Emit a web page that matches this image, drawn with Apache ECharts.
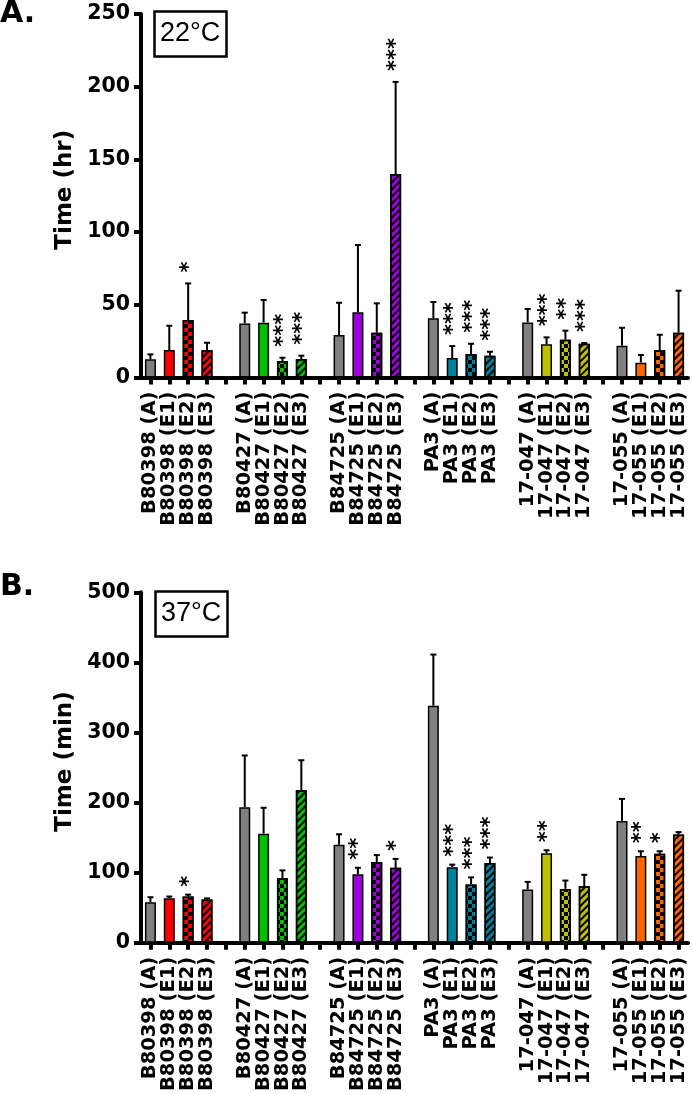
<!DOCTYPE html>
<html>
<head>
<meta charset="utf-8">
<script src="https://cdn.jsdelivr.net/npm/echarts@6/dist/echarts.min.js"></script>
<style>
  html, body { margin: 0; padding: 0; background: #fff; }
  #chart { width: 693px; height: 1094px; }
</style>
</head>
<body>
<div id="chart"></div>
<script>
// ---------------- data ----------------
const categories = [
  'B80398 (A)', 'B80398 (E1)', 'B80398 (E2)', 'B80398 (E3)', '',
  'B80427 (A)', 'B80427 (E1)', 'B80427 (E2)', 'B80427 (E3)', '',
  'B84725 (A)', 'B84725 (E1)', 'B84725 (E2)', 'B84725 (E3)', '',
  'PA3 (A)', 'PA3 (E1)', 'PA3 (E2)', 'PA3 (E3)', '',
  '17-047 (A)', '17-047 (E1)', '17-047 (E2)', '17-047 (E3)', '',
  '17-055 (A)', '17-055 (E1)', '17-055 (E2)', '17-055 (E3)'
];
const groupColors = ['#ff0000', '#00c000', '#a000e0', '#00809f', '#c0c000', '#ff6600'];

// Panel A: 22°C, time (hr)
const mean22 = [12.5, 18.9, 39.5, 18.9, null,
                37.2, 37.7, 11.3, 12.7, null,
                29.2, 44.8, 30.8, 139.9, null,
                40.7, 13.4, 16.2, 15.0, null,
                37.9, 22.8, 26.0, 23.2, null,
                21.9, 10.2, 18.7, 30.8];
const err22 = [3.4, 16.7, 25.2, 5.0, null,
               7.4, 15.6, 2.3, 2.3, null,
               22.2, 46.3, 20.2, 63.4, null,
               11.2, 8.2, 7.0, 2.7, null,
               9.2, 4.8, 6.2, 0.5, null,
               12.3, 5.3, 10.7, 28.9];
const stars22 = ['', '', '*', '', '',
                 '', '', '***', '***', '',
                 '', '', '', '***', '',
                 '', '***', '***', '***', '',
                 '', '***', '**', '***', '',
                 '', '', '', ''];

// Panel B: 37°C, time (min)
const mean37 = [57.8, 63.7, 66.0, 61.9, null,
                193.5, 155.7, 91.9, 217.6, null,
                139.8, 97.8, 115.2, 107.0, null,
                338.3, 107.9, 83.3, 113.8, null,
                76.0, 127.9, 76.9, 80.6, null,
                173.9, 123.8, 127.0, 154.4];
const err37 = [7.2, 2.3, 2.7, 1.4, null,
               73.7, 36.9, 11.4, 42.8, null,
               15.0, 9.2, 9.9, 12.7, null,
               72.9, 3.6, 10.0, 7.8, null,
               10.9, 4.1, 11.9, 16.4, null,
               31.4, 6.8, 3.6, 3.5];
const stars37 = ['', '', '*', '', '',
                 '', '', '', '', '',
                 '', '**', '', '*', '',
                 '', '***', '***', '***', '',
                 '', '**', '', '', '',
                 '', '**', '*', ''];

const yTicks22 = [0, 50, 100, 150, 200, 250];
const yTicks37 = [0, 100, 200, 300, 400, 500];

// ---------------- styling helpers ----------------
const FONT = 'DejaVu Sans';
const checkerDecal = {
  symbol: 'rect', symbolSize: 1, color: '#000',
  dashArrayX: [[3.3, 3.3], [0, 3.3, 3.3, 0]], dashArrayY: [3.3, 0], rotation: 0
};
const stripeDecal = {
  symbol: 'rect', symbolSize: 1, color: '#000',
  dashArrayX: [1, 0], dashArrayY: [2, 2.5], rotation: -Math.PI / 4
};

function barData(means) {
  return means.map(function (v, i) {
    if (v == null) return '-';
    const g = Math.floor(i / 5), k = i % 5;
    const style = { color: k === 0 ? '#808080' : groupColors[g], borderColor: '#000', borderWidth: 1.5 };
    if (k === 2) style.decal = checkerDecal;
    if (k === 3) style.decal = stripeDecal;
    return { value: v, itemStyle: style };
  });
}

function errData(means, errs) {
  const out = [];
  means.forEach(function (v, i) { if (v != null) out.push([i, v, v + errs[i]]); });
  return out;
}

function errRender(stars, gap) {
  return function (params, api) {
    const i = api.value(0);
    const base = api.coord([i, api.value(1)]);
    const top = api.coord([i, api.value(2)]);
    const x = base[0];
    const children = [
      { type: 'line', shape: { x1: x, y1: base[1], x2: x, y2: top[1] }, style: { stroke: '#000', lineWidth: 2 } },
      { type: 'line', shape: { x1: x - 3, y1: top[1], x2: x + 3, y2: top[1] }, style: { stroke: '#000', lineWidth: 2 } }
    ];
    const s = stars[i];
    if (s) {
      children.push({
        type: 'text', x: x + 1, y: top[1] - gap, rotation: Math.PI / 2,
        style: { text: s, fontSize: 21, fontFamily: FONT, fontWeight: 'bold', fill: '#000', align: 'left', verticalAlign: 'middle' }
      });
    }
    return { type: 'group', children: children };
  };
}

function xAxis(gridIndex) {
  return {
    type: 'category', gridIndex: gridIndex, data: categories, boundaryGap: true,
    axisLine: { lineStyle: { color: '#000', width: 4 } },
    axisTick: { show: true, alignWithLabel: true, interval: 0, length: 7, lineStyle: { color: '#000', width: 4 } },
    axisLabel: { interval: 0, rotate: 90, margin: 14, color: '#000', fontFamily: FONT, fontWeight: 'bold', fontSize: 19.5 },
    splitLine: { show: false }
  };
}

function yAxis(gridIndex, ticks, name) {
  return {
    type: 'value', gridIndex: gridIndex, min: ticks[0], max: ticks[ticks.length - 1],
    interval: ticks[1] - ticks[0],
    name: name, nameLocation: 'middle', nameGap: 64, nameRotate: 90,
    nameTextStyle: { color: '#000', fontFamily: FONT, fontWeight: 'bold', fontSize: 23, padding: [0, 0, 0, 12] },
    axisLine: { show: true, lineStyle: { color: '#000', width: 4 } },
    axisTick: { show: true, length: 7, lineStyle: { color: '#000', width: 4 } },
    axisLabel: { margin: 11, color: '#000', fontFamily: FONT, fontWeight: 'bold', fontSize: 20.5 },
    splitLine: { show: false }
  };
}

const option = {
  animation: false,
  backgroundColor: '#fff',
  title: [
    { text: 'A.', left: 0, top: -1, padding: 0, textStyle: { fontFamily: FONT, fontWeight: 'bold', fontSize: 30, color: '#000' } },
    { text: 'B.', left: 0, top: 572, padding: 0, textStyle: { fontFamily: FONT, fontWeight: 'bold', fontSize: 30, color: '#000' } },
    { text: '22°C', left: 154, top: 11, padding: [9, 6, 10, 6], borderColor: '#000', borderWidth: 2.5,
      textStyle: { fontFamily: 'Liberation Sans', fontWeight: 'normal', fontSize: 27, color: '#000' } },
    { text: '37°C', left: 155, top: 591, padding: [9, 6, 10, 6], borderColor: '#000', borderWidth: 2.5,
      textStyle: { fontFamily: 'Liberation Sans', fontWeight: 'normal', fontSize: 27, color: '#000' } }
  ],
  grid: [
    { left: 141, right: 5, top: 14, height: 363.5 },
    { left: 141, right: 5, top: 592.3, height: 366 }
  ],
  xAxis: [xAxis(0), xAxis(1)],
  yAxis: [yAxis(0, yTicks22, 'Time (hr)'), yAxis(1, yTicks37, 'Time (min)')],
  series: [
    { type: 'bar', xAxisIndex: 0, yAxisIndex: 0, barWidth: 11, data: barData(mean22) },
    { type: 'custom', xAxisIndex: 0, yAxisIndex: 0, z: 5, data: errData(mean22, err22),
      renderItem: errRender(stars22, 11), encode: { x: 0, y: [1, 2] } },
    { type: 'bar', xAxisIndex: 1, yAxisIndex: 1, barWidth: 11, data: barData(mean37) },
    { type: 'custom', xAxisIndex: 1, yAxisIndex: 1, z: 5, data: errData(mean37, err37),
      renderItem: errRender(stars37, 8), encode: { x: 0, y: [1, 2] } }
  ]
};

const chart = echarts.init(document.getElementById('chart'), null, { renderer: 'canvas' });
chart.setOption(option);
</script>
</body>
</html>
